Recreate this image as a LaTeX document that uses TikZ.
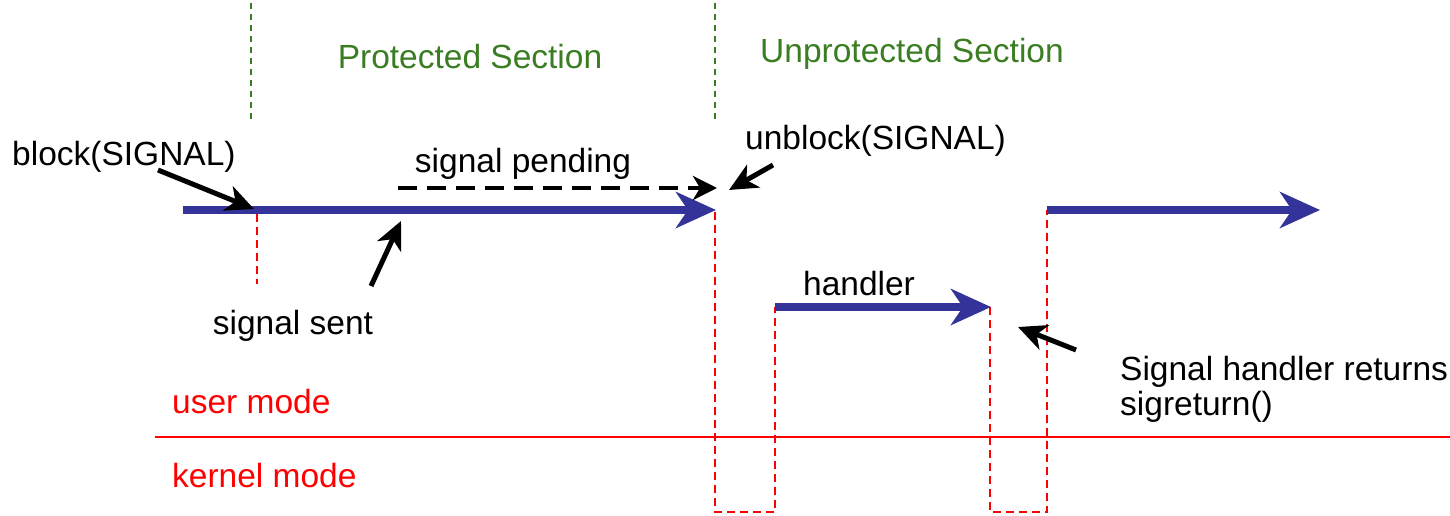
\documentclass[tikz,border=0pt]{standalone}
\usepackage{fontspec}
\setmainfont{Liberation Sans}
\usetikzlibrary{arrows.meta}
\definecolor{secgreen}{RGB}{58,125,34}
\definecolor{flowblue}{RGB}{51,51,153}
\tikzset{
  lbl/.style={inner sep=0pt, font=\fontsize{33.5}{40}\selectfont},
  seclbl/.style={lbl, text=secgreen},
  modelbl/.style={lbl, text=red, anchor=west},
  secline/.style={secgreen, line width=1.6pt, dash pattern=on 6pt off 5pt},
  flow/.style={flowblue, line width=8pt, -{Stealth[length=40pt, width=36pt, inset=12pt]}},
  pointer/.style={black, line width=5pt, -{Stealth[length=28pt, width=26pt, inset=8pt]}},
  pend/.style={black, line width=4.5pt, dash pattern=on 19pt off 10pt, -{Stealth[length=24pt, width=24pt, inset=7pt]}},
  redpath/.style={red, line width=2.5pt, dash pattern=on 8pt off 5pt},
}
\begin{document}
\begin{tikzpicture}[x=1pt, y=-1pt]
\useasboundingbox (0,0) rectangle (1450,516);
% section dividers
\coordinate (g1t) at (251,3); \coordinate (g1b) at (251,122);
\coordinate (g2t) at (715,3); \coordinate (g2b) at (715,122);
\draw[secline] (g1t) -- (g1b);
\draw[secline] (g2t) -- (g2b);
\node[seclbl] (prot) at (470,57) {Protected Section};
\node[seclbl] (unprot) at (912,54) {Unprotected Section};
% mode divider
\coordinate (ml) at (155,437); \coordinate (mr) at (1450,437);
\draw[red, line width=1.6pt] (ml) -- (mr);
\node[modelbl] (user) at (172,402) {user mode};
\node[modelbl] (kern) at (172,476) {kernel mode};
% red dashed paths
\coordinate (s0) at (257,214); \coordinate (s1) at (257,284);
\draw[redpath] (s0) -- (s1);
\coordinate (a) at (715,212); \coordinate (b) at (715,512);
\coordinate (c) at (775,512); \coordinate (d) at (775,307);
\coordinate (e) at (990,307); \coordinate (f) at (990,512);
\coordinate (g) at (1047,512); \coordinate (h) at (1047,210);
\draw[redpath] (a) -- (b) -- (c) -- (d);
\draw[redpath] (e) -- (f) -- (g) -- (h);
% blue flows
\coordinate (m0) at (183,210); \coordinate (m1) at (716,210);
\draw[flow] (m0) -- (m1);
\coordinate (h1) at (991,307);
\draw[flow] (d) -- (h1);
\coordinate (r1) at (1320,210);
\draw[flow] (h) -- (r1);
% pending
\node[lbl] (pendlbl) at (523,164) {signal pending};
\coordinate (p0) at (398,188); \coordinate (p1) at (717,188);
\draw[pend] (p0) -- (p1);
% labels with pointers
\node[lbl, anchor=west] (blk) at (12,157) {block(SIGNAL)};
\coordinate (bk0) at (158,170); \coordinate (bk1) at (254,209);
\draw[pointer] (bk0) -- (bk1);
\node[lbl, anchor=west] (unblk) at (745,141) {unblock(SIGNAL)};
\coordinate (ub0) at (773,165); \coordinate (ub1) at (729,190);
\draw[pointer] (ub0) -- (ub1);
\node[lbl] (sent) at (293,326) {signal sent};
\coordinate (ss0) at (371,286); \coordinate (ss1) at (401,221);
\draw[pointer] (ss0) -- (ss1);
\node[lbl] (hand) at (859,284) {handler};
\node[lbl, anchor=west] (ret1) at (1120,372) {Signal handler returns};
\node[lbl, anchor=west] (ret2) at (1120,407) {sigreturn()};
\coordinate (rt0) at (1076,350); \coordinate (rt1) at (1018,327);
\draw[pointer] (rt0) -- (rt1);
\end{tikzpicture}
\end{document}
